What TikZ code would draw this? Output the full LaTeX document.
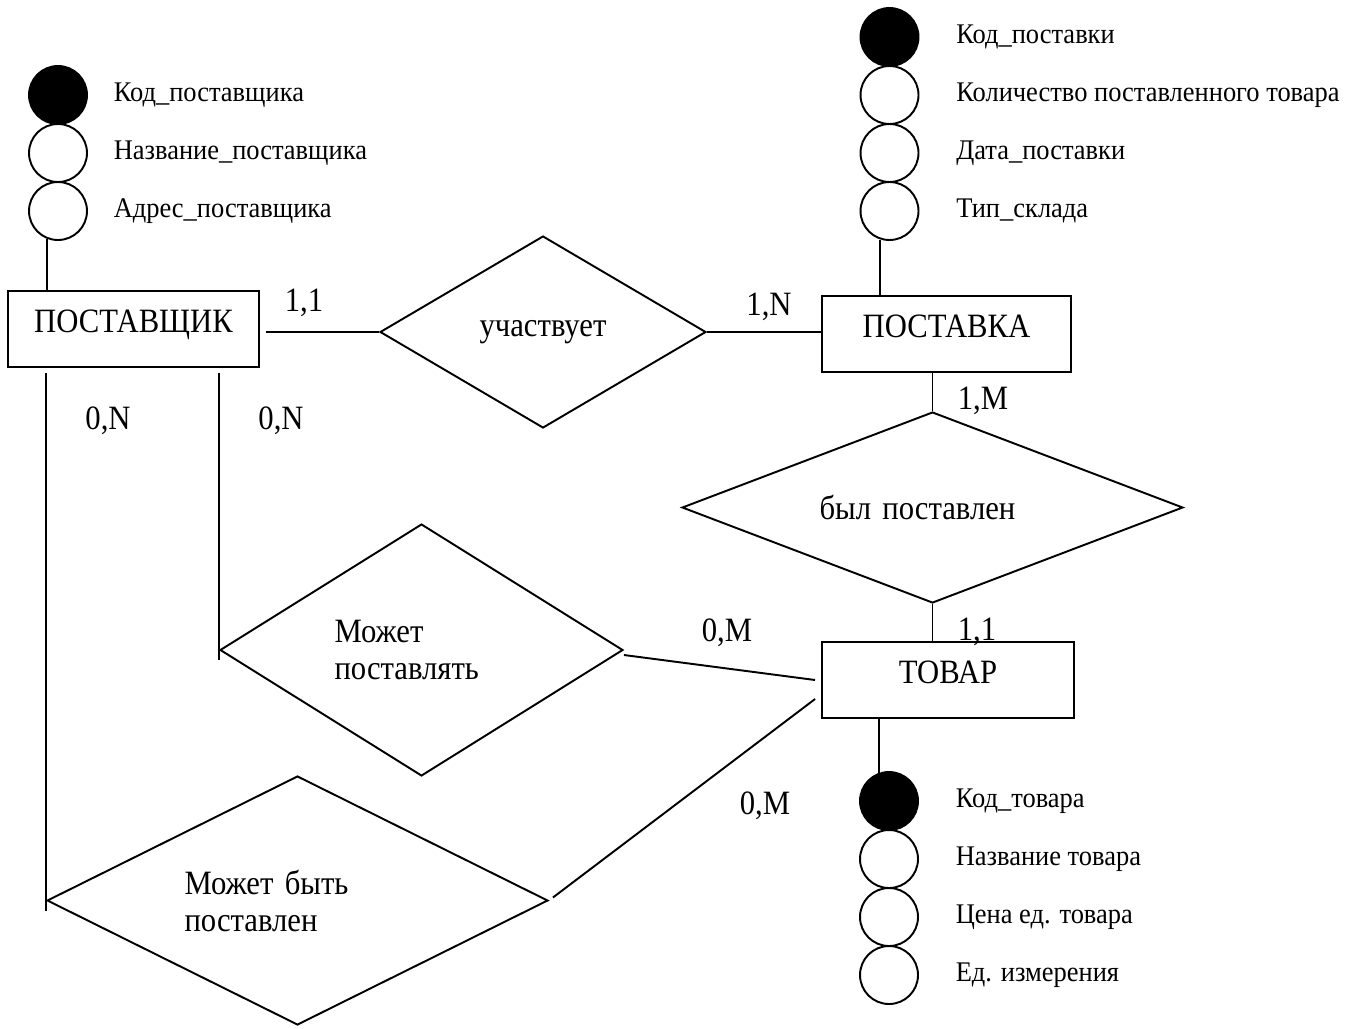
\documentclass[tikz,border=0pt]{standalone}
\usepackage{fontspec}
\setmainfont{Liberation Serif}
\newfontfamily\tallfont{Liberation Serif}[FakeStretch=0.9]
\newfontfamily\labelfont{Liberation Serif}[FakeStretch=0.93]
\usetikzlibrary{shapes.geometric,positioning}

\begin{document}
\begin{tikzpicture}[
    x=0.02cm, y=-0.02cm,
    line width=1.1pt,
    entity/.style={rectangle, draw, minimum width=5.02cm, minimum height=1.52cm,
                   text depth=0.3cm, font=\tallfont\fontsize{19.4}{21}\selectfont},
    rel/.style={diamond, draw, inner sep=0pt, font=\tallfont\fontsize{19.4}{21}\selectfont},
    attr/.style={circle, draw, minimum size=1.16cm, inner sep=0pt},
    keyattr/.style={attr, fill=black},
    attrlabel/.style={font=\labelfont\fontsize{16.2}{19}\selectfont},
    card/.style={font=\tallfont\fontsize{19.4}{21}\selectfont},
]
\useasboundingbox (0,0) rectangle (1364,1028);

% Entities
\node[entity] (supplier) at (133.5,329) {ПОСТАВЩИК};
\node[entity, minimum width=4.98cm] (delivery) at (946.5,334) {ПОСТАВКА};
\node[entity, minimum width=5.04cm] (product) at (948,680) {ТОВАР};

% Relationships
\node[rel, aspect=1.7, minimum width=6.52cm, minimum height=3.84cm] (takesPart) at (543,332) {участвует};
\node[rel, aspect=2.6, minimum width=10.02cm, minimum height=3.82cm,
      text width=4.52cm, align=left] (wasSupplied) at (932.5,507.5) {был поставлен};
\node[rel, aspect=1.6, minimum width=8.06cm, minimum height=5.04cm,
      text width=3.48cm, align=left] (canSupply) at (421.5,650) {Может\\поставлять};
\node[rel, aspect=2, minimum width=10.02cm, minimum height=4.98cm,
      text width=4.52cm, align=left] (canBeSupplied) at (297.5,900.5) {Может быть\\поставлен};

% Supplier attributes
\node[keyattr] (sa1) at (58,95) {};
\node[attr] (sa2) at (58,153) {};
\node[attr] (sa3) at (58,211) {};
\node[attrlabel, right=0.38cm of sa1] {Код\_поставщика};
\node[attrlabel, right=0.38cm of sa2] {Название\_поставщика};
\node[attrlabel, right=0.38cm of sa3] {Адрес\_поставщика};

% Delivery attributes
\node[keyattr] (da1) at (889.5,37) {};
\node[attr] (da2) at (889.5,95) {};
\node[attr] (da3) at (889.5,153) {};
\node[attr] (da4) at (889.5,211) {};
\node[attrlabel, right=0.6cm of da1] {Код\_поставки};
\node[attrlabel, right=0.6cm of da2] {Количество поставленного товара};
\node[attrlabel, right=0.6cm of da3] {Дата\_поставки};
\node[attrlabel, right=0.6cm of da4] {Тип\_склада};

% Product attributes
\node[keyattr] (pa1) at (889,801) {};
\node[attr] (pa2) at (889,859) {};
\node[attr] (pa3) at (889,917) {};
\node[attr] (pa4) at (889,975) {};
\node[attrlabel, right=0.6cm of pa1] {Код\_товара};
\node[attrlabel, right=0.6cm of pa2] {Название товара};
\node[attrlabel, right=0.6cm of pa3] {Цена ед. товара};
\node[attrlabel, right=0.6cm of pa4] {Ед. измерения};

% Attribute lines
\draw (sa3.-112) -- (sa3.-112 |- supplier.north);
\draw (da4.-108) -- (da4.-108 |- delivery.north);
\draw (pa1.110 |- product.south) -- (pa1.110);

% Connectors
\draw ([xshift=0.12cm]supplier.east |- takesPart.west) -- (takesPart.west);
\draw (takesPart.east) -- (takesPart.east -| delivery.west);
\draw (wasSupplied.north |- delivery.south) -- (wasSupplied.north);
\draw (wasSupplied.south) -- (wasSupplied.south |- product.north);
\draw ([yshift=-0.1cm]canSupply.west |- supplier.south) -- ([yshift=-0.2cm]canSupply.west);
\draw ([yshift=-0.1cm]canBeSupplied.west |- supplier.south) -- ([yshift=-0.2cm]canBeSupplied.west);
\draw ([yshift=-0.1cm]canSupply.east) -- ([xshift=-0.12cm]product.west);
\draw ([xshift=0.08cm,yshift=0.06cm]canBeSupplied.east) -- ([xshift=-0.12cm,yshift=-0.38cm]product.west);

% Cardinalities
\node[card] (c1) at (304,303) {1,1};
\node[card] (c2) at (769,307) {1,N};
\node[card] (c3) at (983,401) {1,M};
\node[card] (c4) at (977,632) {1,1};
\node[card] (c5) at (727,633) {0,M};
\node[card] (c6) at (765,806) {0,M};
\node[card] (c7) at (108,421) {0,N};
\node[card] (c8) at (281,421) {0,N};

\end{tikzpicture}
\end{document}
